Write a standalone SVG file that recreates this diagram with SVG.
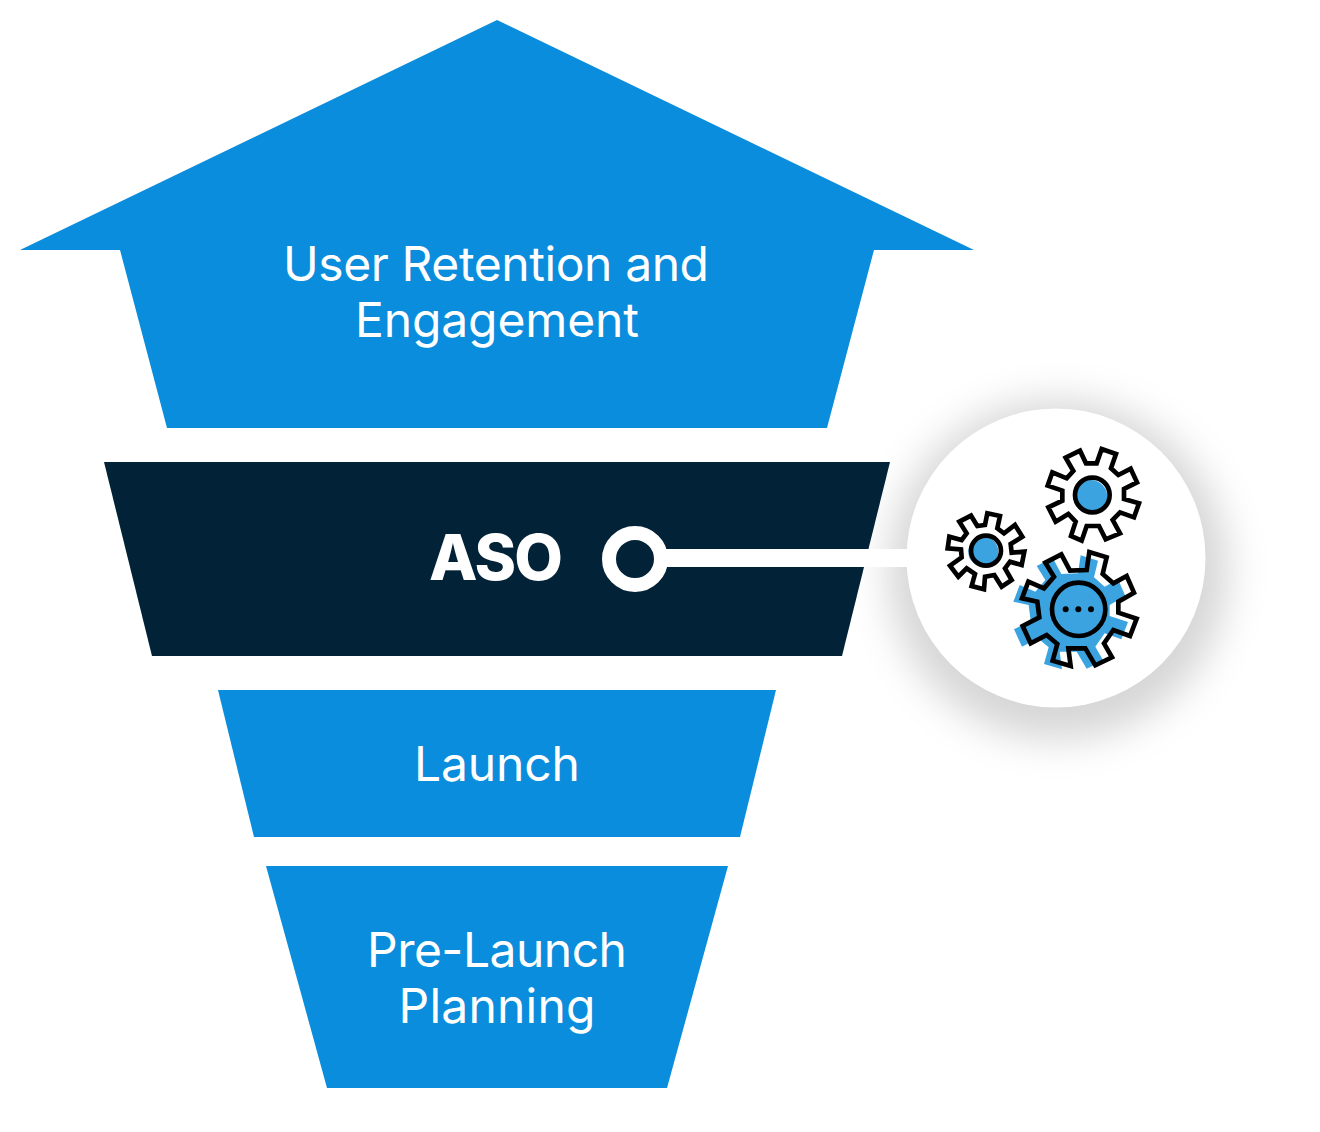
<svg xmlns="http://www.w3.org/2000/svg" width="1320" height="1132" viewBox="0 0 1320 1132">
<style>
.b{fill:#0a8ddc}
.t{font-family:"Inter","Noto Sans",sans-serif;font-size:48px;font-weight:400;fill:#fff;text-anchor:middle}
.g{fill:none;stroke:#000;stroke-width:14;stroke-linejoin:miter}
.f{fill:#3ba4e0}
</style>
<defs>
<filter id="sh" x="-40%" y="-40%" width="180%" height="180%"><feGaussianBlur stdDeviation="19"/></filter>
</defs>
<rect width="1320" height="1132" fill="#fff"/>
<g id="stage-retention">
<polygon class="b" points="497,20 974,250 874,250 827,428 167,428 120,250 20,250"/>
<text class="t" x="496" y="281" textLength="426">User Retention and</text>
<text class="t" x="497" y="337" textLength="284">Engagement</text>
</g>
<g id="stage-launch">
<polygon class="b" points="218,690 776,690 740,837 254,837"/>
<text class="t" x="497" y="781" textLength="166">Launch</text>
</g>
<g id="stage-prelaunch">
<polygon class="b" points="266,866 728,866 667,1088 327,1088"/>
<text class="t" x="497" y="967" textLength="260">Pre-Launch</text>
<text class="t" x="497" y="1023" textLength="197">Planning</text>
</g>
<g id="callout">
<circle cx="1058" cy="570" r="170" fill="#000" fill-opacity="0.16" filter="url(#sh)"/>
<circle cx="1056" cy="558" r="149.5" fill="#fff"/>
</g>
<g id="stage-aso">
<polygon fill="#022237" points="104,462 890,462 842,656 152,656"/>
<text x="496" y="580" font-family="Inter,'Noto Sans',sans-serif" font-weight="800" font-size="63" fill="#fff" text-anchor="middle" textLength="134">ASO</text>
</g>
<g id="connectors">
<rect x="664" y="549" width="250" height="18" fill="#fff"/>
<circle cx="635" cy="559" r="26" fill="#022237" stroke="#fff" stroke-width="14"/>
</g>
<g id="gears" transform="translate(900,420) scale(0.33333)">
<g id="gear-medium">
<circle class="f" cx="572" cy="230" r="50"/>
<polygon class="g" points="497,113 540,92 558,130 590,130 605,87 648,102 633,145 655,165 692,146 711,187 672,207 672,237 717,250 702,292 660,277 638,300 660,340 617,358 597,318 560,318 545,362 513,348 527,305 505,282 467,305 445,262 487,242 487,212 443,197 457,157 500,175 520,153"/>
<circle class="g" cx="577" cy="225" r="52"/>
</g>
<g id="gear-small">
<circle class="f" cx="250" cy="395" r="45"/>
<polygon class="g" points="178,305 213,287 232,318 255,315 262,280 300,288 292,325 312,340 345,315 367,350 332,372 335,398 373,395 365,435 330,425 315,445 335,480 305,500 283,465 255,470 252,508 215,498 225,462 200,445 175,470 150,437 185,412 183,388 143,385 148,350 185,360 200,340"/>
<circle class="g" cx="258" cy="392" r="45"/>
</g>
<g id="gear-large">
<polygon class="f" transform="translate(-26,10)" points="436,428 484,403 510,452 560,450 568,396 620,412 608,462 640,490 680,468 702,518 655,545 655,578 710,596 690,648 640,630 612,670 636,712 586,736 556,685 505,685 512,738 458,722 472,672 440,645 392,670 368,618 418,592 412,545 366,535 385,485 432,505 462,470"/>
<polygon class="g" points="436,428 484,403 510,452 560,450 568,396 620,412 608,462 640,490 680,468 702,518 655,545 655,578 710,596 690,648 640,630 612,670 636,712 586,736 556,685 505,685 512,738 458,722 472,672 440,645 392,670 368,618 418,592 412,545 366,535 385,485 432,505 462,470"/>
<circle class="g" cx="536" cy="568" r="80"/>
<circle cx="497" cy="568" r="9"/><circle cx="535" cy="568" r="9"/><circle cx="573" cy="568" r="9"/>
</g>
</g>
</svg>
